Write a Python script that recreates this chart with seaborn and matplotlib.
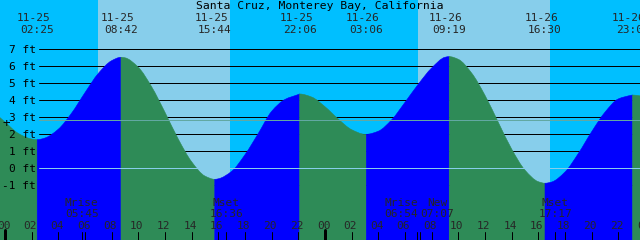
import numpy as np
import pandas as pd
import matplotlib
matplotlib.use("Agg")
import matplotlib.pyplot as plt
import matplotlib.transforms as mtransforms
from matplotlib.path import Path
from matplotlib.patches import PathPatch
import seaborn as sns

# ---------------- data ----------------
TITLE = "Santa Cruz, Monterey Bay, California"

# tide extremes (day index from 11-25, clock time, height ft)
ext_dates = ["11-25", "11-25", "11-25", "11-25", "11-26", "11-26", "11-26", "11-26"]
ext_days = [0, 0, 0, 0, 1, 1, 1, 1]
ext_times = ["02:25", "08:42", "15:44", "22:06", "03:06", "09:19", "16:30", "23:04"]
ext_heights = [1.68, 6.53, -0.65, 4.37, 2.00, 6.57, -0.88, 4.31]

# tide height read at each hour (hours since 11-25 00:00), plus the two chart edges
hour_times = [-0.375] + list(range(0, 48)) + [47.625]
hour_heights = [2.98,
                2.72, 2.05, 1.72, 1.78, 2.30, 3.25, 4.45, 5.58, 6.33, 6.50,
                5.94, 4.79, 3.29, 1.71, 0.38, -0.46, -0.62, -0.18, 0.80, 2.05,
                3.35, 4.05, 4.34, 4.19, 3.62, 2.89, 2.27, 2.00, 2.18, 2.85,
                3.88, 4.95, 5.90, 6.53, 6.41, 5.60, 4.29, 2.70, 1.13, -0.11,
                -0.79, -0.81, -0.22, 0.87, 2.15, 3.30, 4.08, 4.30,
                4.26]

sun_days = [0, 1]
sunrise = ["06:57", "06:57"]
sunset = ["16:52", "16:53"]

moon_kinds = ["Mrise", "Mset", "Mrise", "New", "Mset"]
moon_days = [0, 0, 1, 1, 1]
moon_times = ["05:45", "16:36", "06:54", "07:07", "17:17"]

level_ticks = [-1, 0, 1, 2, 3, 4, 5, 6, 7]
hour_ticks = list(range(0, 49, 2))
msl_level = 2.84

# ---------------- style / layout ----------------
W, H = 640, 240
PX = 0.72  # points per pixel at dpi 100
T0, T1 = -0.375, 47.625
HB, HT = -4.22, 9.90
PX_PER_H = W / (T1 - T0)
NIGHT = "#00BFFF"
DAY = "#87CEEB"
FLOOD = "#0000FF"
EBB = "#2E8B57"
MSL_C = "#62A8A2"
FONT = "DejaVu Sans Mono"
FS = 8
LINE_X0 = 39 / W
moon_dx = [0, 0, -16, 17, 0]


def hrs(day, hhmm):
    h, m = hhmm.split(":")
    return day * 24 + int(h) + int(m) / 60.0


def pchip_slopes(x, y):
    """Monotone (Fritsch-Carlson) tangents so the drawn curve passes the readings smoothly."""
    x = np.asarray(x, float)
    y = np.asarray(y, float)
    hk = np.diff(x)
    dk = np.diff(y) / hk
    m = np.zeros_like(y)
    for k in range(1, len(y) - 1):
        if dk[k - 1] * dk[k] > 0:
            w1 = 2 * hk[k] + hk[k - 1]
            w2 = hk[k] + 2 * hk[k - 1]
            m[k] = (w1 + w2) / (w1 / dk[k - 1] + w2 / dk[k])
    m[0] = dk[0]
    m[-1] = dk[-1]
    return m


ext_t = [hrs(d, s) for d, s in zip(ext_days, ext_times)]

sns.set_style("white")
plt.rcParams["font.family"] = [FONT, "DejaVu Sans"]

fig = plt.figure(figsize=(W / 100, H / 100), dpi=100)
ax = fig.add_axes([0, 0, 1, 1])

# background night/day
ax.axvspan(T0, T1, color=NIGHT, lw=0, zorder=0)
for d, r, s in zip(sun_days, sunrise, sunset):
    ax.axvspan(hrs(d, r), hrs(d, s), color=DAY, lw=0, zorder=0.5)

# depth lines (behind water), drawn with seaborn
x_line0 = T0 + 39 / PX_PER_H
lines_df = pd.DataFrame([(lv, x, lv) for lv in level_ticks if lv != 0
                         for x in (x_line0, T1)], columns=["level", "t", "h"])
sns.lineplot(data=lines_df, x="t", y="h", units="level", estimator=None,
             color="black", lw=PX, legend=False, ax=ax, zorder=1)

# tide curve, split into flood / ebb segments, drawn as smooth bezier paths
pts = pd.DataFrame({"t": list(hour_times) + ext_t,
                    "h": list(hour_heights) + ext_heights})
pts = pts.sort_values("t").drop_duplicates("t").reset_index(drop=True)
slopes = pchip_slopes(pts.t.values, pts.h.values)
pts["m"] = slopes
bounds = [T0] + ext_t + [T1]
for i in range(len(bounds) - 1):
    a, b = bounds[i], bounds[i + 1]
    seg = pts[(pts.t >= a - 1e-9) & (pts.t <= b + 1e-9)]
    rising = seg.h.iloc[-1] > seg.h.iloc[0]
    col = FLOOD if rising else EBB
    tt, hh, mm = seg.t.values, seg.h.values, seg.m.values
    verts = [(tt[0], HB), (tt[0], hh[0])]
    codes = [Path.MOVETO, Path.LINETO]
    for k in range(len(tt) - 1):
        dt = tt[k + 1] - tt[k]
        verts += [(tt[k] + dt / 3, hh[k] + mm[k] * dt / 3),
                  (tt[k + 1] - dt / 3, hh[k + 1] - mm[k + 1] * dt / 3),
                  (tt[k + 1], hh[k + 1])]
        codes += [Path.CURVE4] * 3
    verts += [(tt[-1], HB), (tt[0], HB)]
    codes += [Path.LINETO, Path.CLOSEPOLY]
    ax.add_patch(PathPatch(Path(verts, codes), facecolor=col, edgecolor=col,
                           lw=0.4, zorder=2))

ax.set_xlim(T0, T1)
ax.set_ylim(HB, HT)
ax.axis("off")

# datum and mean sea level lines
ax.axhline(0, xmin=LINE_X0, xmax=1, color=DAY, lw=PX, zorder=4)
ax.axhline(msl_level, xmin=LINE_X0, xmax=1, color=MSL_C, lw=PX, zorder=4)

trans_ax_data = mtransforms.blended_transform_factory(ax.transAxes, ax.transData)
trans_data_ax = mtransforms.blended_transform_factory(ax.transData, ax.transAxes)

# level labels
for lv in level_ticks:
    ax.annotate(f"{lv} ft", xy=(36 / W, lv), xycoords=trans_ax_data,
                xytext=(0, -4 * PX), textcoords="offset points",
                ha="right", va="baseline", fontsize=FS, family=FONT,
                color="black", zorder=6)

ax.text(6.7 / W, 1 - 123.3 / H, "+", transform=ax.transAxes, ha="center",
        va="center", fontsize=FS + 1, family=FONT, color="black", zorder=6)

# title
ax.text(0.5, 1 - 9 / H, TITLE, transform=ax.transAxes, ha="center",
        va="baseline", fontsize=FS + 0.2, family=FONT, color="black", zorder=6)

# extreme labels
for t, dstr, tstr in zip(ext_t, ext_dates, ext_times):
    ax.annotate(dstr, xy=(t, 1 - 20.7 / H), xycoords=trans_data_ax,
                xytext=(-3.5 * PX, 0), textcoords="offset points",
                ha="center", va="baseline", fontsize=FS, family=FONT, zorder=6)
    ax.annotate(tstr, xy=(t, 1 - 33.3 / H), xycoords=trans_data_ax,
                xytext=(0, 0), textcoords="offset points",
                ha="center", va="baseline", fontsize=FS, family=FONT, zorder=6)

# moon labels and event ticks
for kind, d, tstr, dx in zip(moon_kinds, moon_days, moon_times, moon_dx):
    t = hrs(d, tstr)
    ax.annotate(kind, xy=(t, 1 - 206 / H), xycoords=trans_data_ax,
                xytext=(dx * PX, 0), textcoords="offset points",
                ha="center", va="baseline", fontsize=FS, family=FONT, zorder=6)
    ax.annotate(tstr, xy=(t, 1 - 217 / H), xycoords=trans_data_ax,
                xytext=(dx * PX, 0), textcoords="offset points",
                ha="center", va="baseline", fontsize=FS, family=FONT, zorder=6)
    ax.axvline(t, ymin=0, ymax=8 / H, color="black", lw=PX, zorder=6)

# hour labels and ticks
for hh in hour_ticks:
    ax.annotate(f"{hh % 24:02d}", xy=(hh, 1 - 229.3 / H), xycoords=trans_data_ax,
                xytext=(-1.5 * PX, 0), textcoords="offset points",
                ha="center", va="baseline", fontsize=FS, family=FONT, zorder=6)
    if hh % 24 == 0:
        ax.axvline(hh, ymin=0, ymax=10 / H, color="black", lw=3 * PX, zorder=6)
    else:
        ax.axvline(hh, ymin=0, ymax=8 / H, color="black", lw=PX, zorder=6)

fig.savefig("out.png", dpi=100)
